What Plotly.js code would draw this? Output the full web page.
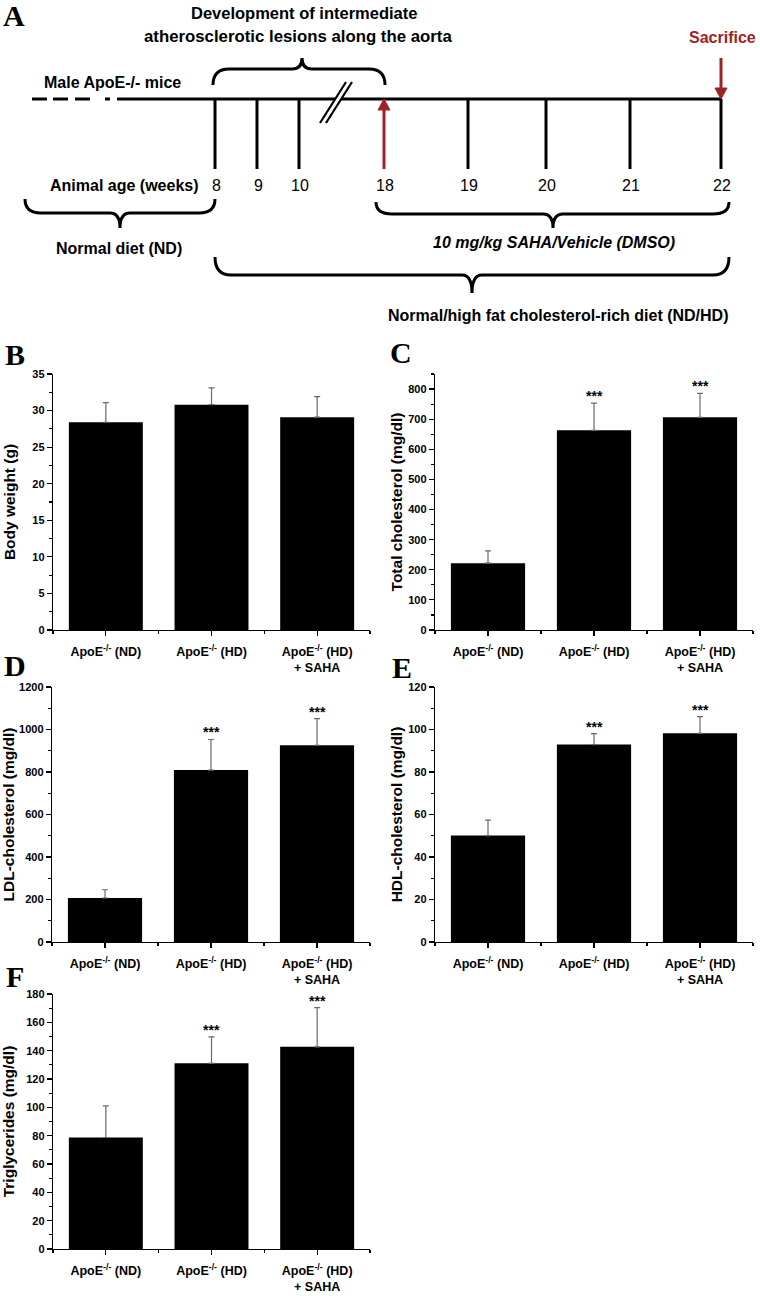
<!DOCTYPE html>
<html><head><meta charset="utf-8">
<script src="https://cdn.plot.ly/plotly-3.0.1.min.js"></script>
<style>html,body{margin:0;padding:0;background:#fff}</style>
</head><body>
<div id="chart" style="width:760px;height:1296px"></div>
<script>
// ---------------- DATA ----------------
const categories = ['ApoE<sup>-/-</sup> (ND)', 'ApoE<sup>-/-</sup> (HD)', 'ApoE<sup>-/-</sup> (HD)<br>+ SAHA'];
const bodyWeight = [28.4, 30.8, 29.1];
const bodyWeightErr = [2.7, 2.3, 2.8];
const totalCholesterol = [222, 663, 706];
const totalCholesterolErr = [41, 90, 80];
const ldlCholesterol = [207, 809, 926];
const ldlCholesterolErr = [39, 144, 125];
const hdlCholesterol = [50.1, 92.9, 98.2];
const hdlCholesterolErr = [7.3, 5.2, 7.9];
const triglycerides = [78.7, 131.1, 142.7];
const triglyceridesErr = [22.4, 18.6, 27.7];
const significance = ['', '***', '***'];
const weekLabels = ['8', '9', '10', '18', '19', '20', '21', '22'];

// ---------------- LAYOUT HELPERS ----------------
const W = 760, H = 1296;
const FONT = 'Liberation Sans, Arial, sans-serif';
const SERIF = 'Liberation Serif, Times New Roman, serif';
const RED = '#9e2224';
const px = x => x / W;
const py = y => 1 - y / H;

const panels = [
  {letter: 'B', vals: bodyWeight, errs: bodyWeightErr, stars: false, title: 'Body weight (g)',
   range: [0, 35], dtick: 5, xd: [53, 370], yd: [374, 630], standoff: 13, lpos: [15, 352]},
  {letter: 'C', vals: totalCholesterol, errs: totalCholesterolErr, stars: true, title: 'Total cholesterol (mg/dl)',
   range: [0, 850], dtick: 100, xd: [435, 753], yd: [374, 630], standoff: 1, lpos: [401, 350]},
  {letter: 'D', vals: ldlCholesterol, errs: ldlCholesterolErr, stars: true, title: 'LDL-cholesterol (mg/dl)',
   range: [0, 1200], dtick: 200, xd: [52, 370], yd: [687, 942], standoff: 2, lpos: [15, 664]},
  {letter: 'E', vals: hdlCholesterol, errs: hdlCholesterolErr, stars: true, title: 'HDL-cholesterol (mg/dl)',
   range: [0, 120], dtick: 20, xd: [435, 753], yd: [687, 942], standoff: 1, lpos: [402, 665]},
  {letter: 'F', vals: triglycerides, errs: triglyceridesErr, stars: true, title: 'Triglycerides (mg/dl)',
   range: [0, 180], dtick: 20, xd: [53, 370], yd: [994, 1249], standoff: 7, lpos: [15, 974]}
];

const traces = [];
const layout = {
  width: W, height: H, margin: {l: 0, r: 0, t: 0, b: 0},
  paper_bgcolor: '#fff', plot_bgcolor: 'rgba(0,0,0,0)',
  showlegend: false, font: {family: FONT, color: '#000'},
  annotations: [], shapes: []
};

const idx = categories.map((c, i) => i);

panels.forEach((p, k) => {
  const n = k === 0 ? '' : String(k + 1);
  traces.push({
    type: 'bar', x: idx, y: p.vals, width: 0.7,
    xaxis: 'x' + n, yaxis: 'y' + n,
    marker: {color: '#000', line: {width: 0}},
    error_y: {type: 'data', symmetric: false, array: p.errs, arrayminus: p.errs.map(() => 0),
              color: '#6a6a6a', thickness: 1.2, width: 3},
    hoverinfo: 'skip'
  });
  layout['xaxis' + n] = {
    domain: [px(p.xd[0]), px(p.xd[1])], anchor: 'y' + n, range: [-0.5, 2.5],
    tickvals: idx, ticktext: categories, ticks: 'outside', ticklen: 5, tickwidth: 1.2, tickcolor: '#000',
    minor: {tick0: 0.5, dtick: 1, ticks: 'outside', ticklen: 3, tickwidth: 1.2, tickcolor: '#000'},
    showline: true, linecolor: '#000', linewidth: 1.2, showgrid: false, zeroline: false,
    tickfont: {family: FONT, size: 12.5, weight: 'bold', color: '#000'}, ticklabelstandoff: 5,
    fixedrange: true
  };
  layout['yaxis' + n] = {
    domain: [py(p.yd[1]), py(p.yd[0])], anchor: 'x' + n, range: p.range,
    tick0: 0, dtick: p.dtick, ticks: 'outside', ticklen: 5, tickwidth: 1.2, tickcolor: '#000',
    minor: {dtick: p.dtick / 2, ticks: 'outside', ticklen: 3, tickwidth: 1.2, tickcolor: '#000'},
    showline: true, linecolor: '#000', linewidth: 1.2, showgrid: false, zeroline: false,
    tickfont: {family: FONT, size: 11, weight: 'bold', color: '#000'},
    title: {text: p.title, font: {family: FONT, size: 15.5, weight: 'bold', color: '#000'}, standoff: p.standoff},
    fixedrange: true
  };
  if (p.stars) {
    idx.forEach(i => {
      if (!significance[i]) return;
      layout.annotations.push({
        xref: 'x' + n, yref: 'y' + n, x: i, y: p.vals[i] + p.errs[i], text: significance[i],
        showarrow: false, yanchor: 'bottom', yshift: -3,
        font: {family: FONT, size: 14, weight: 'bold', color: '#000'}
      });
    });
  }
  layout.annotations.push({
    xref: 'paper', yref: 'paper', x: px(p.lpos[0]), y: py(p.lpos[1] + 2), text: p.letter,
    showarrow: false, xanchor: 'center', yanchor: 'middle',
    font: {family: SERIF, size: 30, weight: 'bold', color: '#000'}
  });
});

// ---------------- PANEL A: timeline schematic (pixel coordinates) ----------------
traces.push({type: 'scatter', x: [], y: [], xaxis: 'x6', yaxis: 'y6', hoverinfo: 'skip', showlegend: false});
layout.xaxis6 = {domain: [0, 1], range: [0, W], anchor: 'y6', visible: false, fixedrange: true};
layout.yaxis6 = {domain: [py(330), 1], range: [330, 0], anchor: 'x6', visible: false, fixedrange: true};

const LINE_Y = 99, TICK_END = 169;
const weekX = [215, 257, 299, 384, 468, 546, 630, 721];
const treatmentStart = 3; // index of week 18 (red arrow)
const S = (o) => Object.assign({xref: 'x6', yref: 'y6', layer: 'above'}, o);
const blk = {color: '#000', width: 3};

// dashed lead-in
[[32, 47], [53, 68], [75, 90], [105, 110]].forEach(d =>
  layout.shapes.push(S({type: 'line', x0: d[0], x1: d[1], y0: LINE_Y, y1: LINE_Y, line: blk})));
layout.shapes.push(S({type: 'line', x0: 117, x1: 722, y0: LINE_Y, y1: LINE_Y, line: blk}));

// week ticks
weekX.forEach((x, i) => {
  if (i === treatmentStart) return;
  layout.shapes.push(S({type: 'line', x0: x, x1: x, y0: LINE_Y, y1: TICK_END, line: blk}));
});
// red arrow up at week 18
const ax18 = weekX[treatmentStart];
layout.shapes.push(S({type: 'line', x0: ax18, x1: ax18, y0: TICK_END, y1: LINE_Y + 8, line: {color: RED, width: 3}}));
layout.shapes.push(S({type: 'path', path: `M${ax18 - 6},${LINE_Y + 11} L${ax18 + 6},${LINE_Y + 11} L${ax18},${LINE_Y} Z`,
  fillcolor: RED, line: {color: RED, width: 1}}));
// red arrow down (sacrifice)
const ax22 = weekX[7];
layout.shapes.push(S({type: 'line', x0: ax22, x1: ax22, y0: 58, y1: LINE_Y - 8, line: {color: RED, width: 3}}));
layout.shapes.push(S({type: 'path', path: `M${ax22 - 6},${LINE_Y - 11} L${ax22 + 6},${LINE_Y - 11} L${ax22},${LINE_Y} Z`,
  fillcolor: RED, line: {color: RED, width: 1}}));
// break mark //
layout.shapes.push(S({type: 'line', x0: 323, x1: 349, y0: 123, y1: 82, line: {color: '#fff', width: 4}}));
layout.shapes.push(S({type: 'line', x0: 320, x1: 346, y0: 123, y1: 82, line: {color: '#000', width: 2.2}}));
layout.shapes.push(S({type: 'line', x0: 326, x1: 352, y0: 123, y1: 82, line: {color: '#000', width: 2.2}}));

// curly braces
function brace(x1, x2, xt, yEnd, yMid, yTip) {
  const r = 16, rt = 10;
  return `M${x1},${yEnd} Q${x1},${yMid} ${x1 + r},${yMid} L${xt - rt},${yMid} Q${xt},${yMid} ${xt},${yTip} ` +
         `Q${xt},${yMid} ${xt + rt},${yMid} L${x2 - r},${yMid} Q${x2},${yMid} ${x2},${yEnd}`;
}
[[213, 385, 302, 85, 69, 58], [25, 215, 120, 199, 213, 228], [376, 729, 553, 202, 214, 228], [215, 729, 472, 257, 275, 293]]
  .forEach(b => layout.shapes.push(S({type: 'path', path: brace(...b), line: blk})));

// texts
const T = (x, y, text, o) => layout.annotations.push(Object.assign({
  xref: 'x6', yref: 'y6', x: x, y: y, text: text, showarrow: false, xanchor: 'center', yanchor: 'middle',
  font: {family: FONT, size: 16, weight: 'bold', color: '#000'}
}, o || {}));
T(14, 15, 'A', {font: {family: SERIF, size: 30, weight: 'bold', color: '#000'}});
T(304, 13, 'Development of intermediate', {font: {family: FONT, size: 16.5, weight: 'bold', color: '#000'}});
T(298, 36, 'atherosclerotic lesions along the aorta', {font: {family: FONT, size: 16.8, weight: 'bold', color: '#000'}});
T(112, 82, 'Male ApoE-/- mice');
T(722, 37, 'Sacrifice', {font: {family: FONT, size: 16, weight: 'bold', color: RED}});
T(124, 185, 'Animal age (weeks)');
weekLabels.forEach((w, i) => T(weekX[i] + 1, 185, w, {font: {family: FONT, size: 16, weight: 'normal', color: '#000'}}));
T(119, 248, 'Normal diet (ND)');
T(554, 242, '10 mg/kg SAHA/Vehicle (DMSO)', {font: {family: FONT, size: 16, weight: 'bold', style: 'italic', color: '#000'}});
T(558, 315, 'Normal/high fat cholesterol-rich diet (ND/HD)');

Plotly.newPlot('chart', traces, layout, {staticPlot: true, displayModeBar: false});
</script>
</body></html>
